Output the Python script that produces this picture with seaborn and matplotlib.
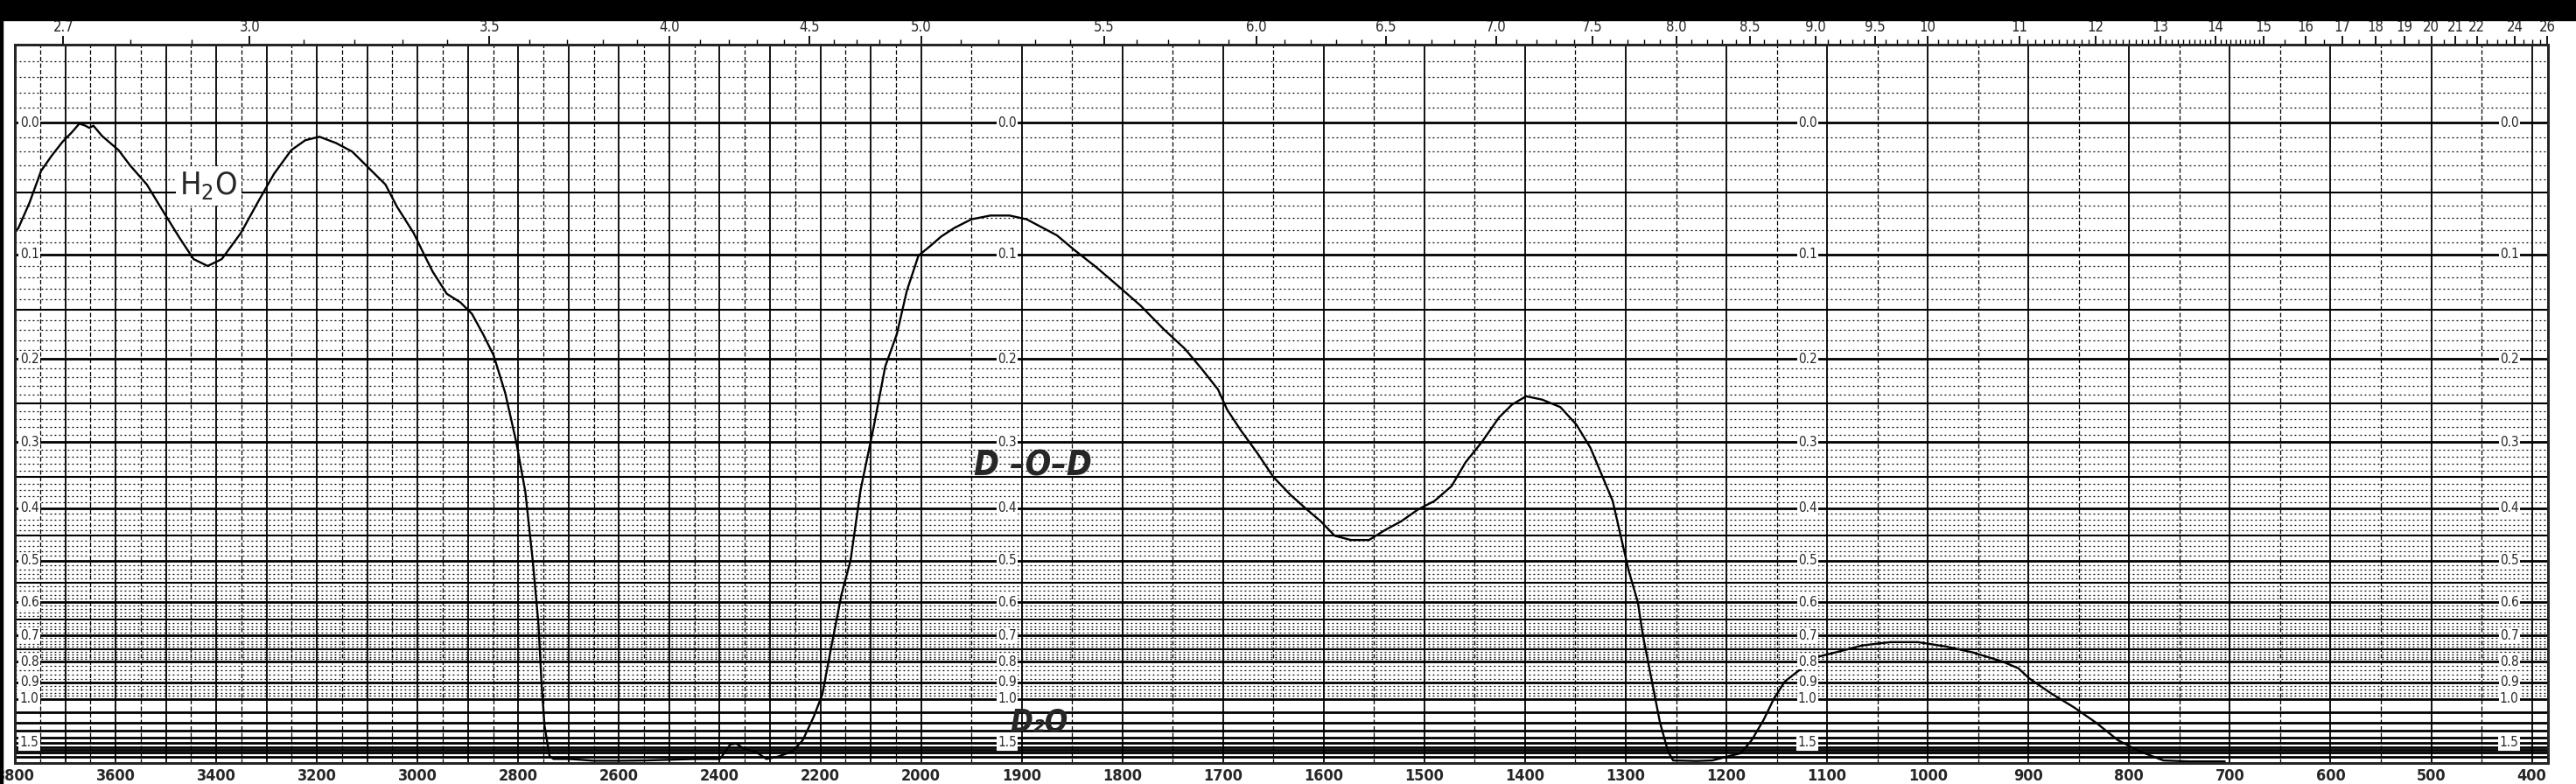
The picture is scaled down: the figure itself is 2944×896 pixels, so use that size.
import numpy as np
import pandas as pd
import matplotlib
matplotlib.use("Agg")
import matplotlib.pyplot as plt
import matplotlib.font_manager as fm
from matplotlib.patches import Rectangle
import seaborn as sns

# trace: wavenumber (cm-1) and absorbance
wavenumber = [3800, 3793, 3771, 3748, 3727, 3705, 3687, 3672, 3660, 3652, 3644, 3627,
              3594, 3571, 3538, 3505, 3473, 3445, 3417, 3389, 3351, 3318, 3285, 3251,
              3223, 3195, 3162, 3130, 3091, 3064, 3041, 3008, 2986, 2970, 2942, 2915,
              2892, 2870, 2849, 2826, 2804, 2786, 2771, 2760, 2754, 2748, 2738, 2730,
              2700, 2650, 2600, 2550, 2500, 2450, 2400, 2395, 2385, 2379, 2367, 2351,
              2329, 2307, 2284, 2256, 2235, 2213, 2196, 2180, 2158, 2140, 2120, 2094,
              2071, 2048, 2028, 2005, 1991, 1980, 1967, 1950, 1931, 1912, 1895, 1881,
              1865, 1848, 1826, 1804, 1782, 1759, 1738, 1721, 1705, 1696, 1682, 1666,
              1650, 1633, 1617, 1603, 1589, 1573, 1555, 1539, 1523, 1506, 1490, 1473,
              1459, 1443, 1426, 1413, 1399, 1383, 1365, 1349, 1335, 1324, 1313, 1305,
              1297, 1288, 1283, 1274, 1266, 1258, 1253, 1230, 1214, 1197, 1186, 1175,
              1163, 1153, 1142, 1128, 1109, 1086, 1065, 1037, 1010, 982, 955, 926,
              910, 899, 877, 855, 833, 811, 789, 766, 740, 705]
absorbance = [0.082, 0.078, 0.058, 0.034, 0.023, 0.013, 0.0066, 0.0006, 0.002, 0.0035, 0.002, 0.009,
              0.019, 0.030, 0.044, 0.065, 0.086, 0.104, 0.110, 0.104, 0.082, 0.058, 0.036, 0.019,
              0.012, 0.0096, 0.014, 0.020, 0.034, 0.044, 0.061, 0.082, 0.101, 0.115, 0.135, 0.143,
              0.154, 0.174, 0.196, 0.238, 0.30, 0.373, 0.503, 0.662, 0.895, 1.23, 1.96, 2.2,
              2.2, 2.45, 2.45, 2.4, 2.3, 2.2, 2.2, 1.96, 1.65, 1.54, 1.52, 1.66,
              1.75, 2.2, 2.0, 1.75, 1.45, 1.14, 0.97, 0.76, 0.58, 0.50, 0.37, 0.28,
              0.208, 0.174, 0.132, 0.101, 0.093, 0.085, 0.078, 0.071, 0.068, 0.068, 0.071, 0.077,
              0.084, 0.096, 0.111, 0.128, 0.146, 0.169, 0.189, 0.211, 0.234, 0.258, 0.285, 0.315,
              0.35, 0.378, 0.402, 0.423, 0.45, 0.458, 0.458, 0.439, 0.423, 0.402, 0.388, 0.364,
              0.328, 0.30, 0.268, 0.252, 0.242, 0.246, 0.255, 0.277, 0.308, 0.346, 0.388, 0.45,
              0.523, 0.60, 0.70, 0.895, 1.20, 1.75, 2.4, 2.5, 2.4, 1.96, 1.82, 1.45,
              1.17, 1.0, 0.895, 0.84, 0.78, 0.757, 0.736, 0.724, 0.724, 0.74, 0.763, 0.80,
              0.83, 0.88, 0.966, 1.06, 1.20, 1.45, 1.75, 2.4, 2.6, 2.6]

bottom_ticks = [3800, 3600, 3400, 3200, 3000, 2800, 2600, 2400, 2200, 2000, 1900, 1800,
                1700, 1600, 1500, 1400, 1300, 1200, 1100, 1000, 900, 800, 700, 600, 500, 400]
micron_ticks = [2.7, 3.0, 3.5, 4.0, 4.5, 5.0, 5.5, 6.0, 6.5, 7.0, 7.5, 8.0, 8.5, 9.0, 9.5,
                10, 11, 12, 13, 14, 15, 16, 17, 18, 19, 20, 21, 22, 24, 26]
micron_labels = ["2.7", "3.0", "3.5", "4.0", "4.5", "5.0", "5.5", "6.0", "6.5", "7.0", "7.5",
                 "8.0", "8.5", "9.0", "9.5", "10", "11", "12", "13", "14", "15", "16", "17",
                 "18", "19", "20", "21", "22", "24", "26"]
abs_ticks = [0.0, 0.1, 0.2, 0.3, 0.4, 0.5, 0.6, 0.7, 0.8, 0.9, 1.0, 1.5]
label_columns = [3790, 1905, 1110, 413]


def fwd(x):
    x = np.asarray(x, dtype=float)
    return np.where(x > 2000, 2000 + (x - 2000) / 2.0, x)


def inv(u):
    u = np.asarray(u, dtype=float)
    return np.where(u > 2000, 2000 + (u - 2000) * 2.0, u)


def to_T(a):
    return 10.0 ** (-np.asarray(a, dtype=float))


sns.set_theme(style="white")
names = {f.name for f in fm.fontManager.ttflist}
narrow = "Liberation Sans Narrow" if "Liberation Sans Narrow" in names else "DejaVu Sans"
plt.rcParams["font.family"] = [narrow, "DejaVu Sans"]
if narrow == "DejaVu Sans":
    plt.rcParams["font.stretch"] = "condensed"
plt.rcParams["mathtext.default"] = "regular"

df = pd.DataFrame({"wavenumber": wavenumber,
                   "transmittance": to_T(absorbance)})

fig = plt.figure(figsize=(29.44, 8.96), dpi=100)
ax = fig.add_axes([17 / 2944, 24 / 896, 2895 / 2944, 821 / 896])

# chart paper: horizontal lines in absorbance
fine = list(np.round(np.arange(-0.05, 0.801, 0.01), 2)) + \
    list(np.round(np.arange(0.82, 1.001, 0.02), 2)) + [1.1, 1.2, 1.3, 1.4, 1.5, 1.6, 1.7, 1.8, 2.0]
for a in fine:
    t = to_T(a)
    if abs(a * 10 - round(a * 10)) < 1e-6 or a in (1.5, 2.0):
        ax.axhline(t, color="black", lw=2.0, zorder=1)
    elif abs(a * 20 - round(a * 20)) < 1e-6:
        ax.axhline(t, color="black", lw=1.5, zorder=1)
    else:
        ax.axhline(t, color="black", lw=0.9, ls=(0, (1.5, 2.5)), zorder=1)

# vertical lines every 50 cm-1, heavier at each 100
for w in range(400, 3801, 50):
    if w % 100 == 0:
        ax.axvline(w, color="black", lw=1.3, zorder=1)
    else:
        ax.axvline(w, color="black", lw=0.9, ls=(0, (4, 2)), zorder=1)

sns.lineplot(data=df, x="wavenumber", y="transmittance", ax=ax, color="black",
             lw=1.7, sort=False, estimator=None, zorder=4)

ax.set_xscale("function", functions=(fwd, inv))
ax.set_xlim(3800, 384)
ax.set_ylim(0, 10 ** 0.05)
ax.set_xlabel("")
ax.set_ylabel("")
ax.set_xticks(bottom_ticks)
ax.set_xticklabels([str(t) for t in bottom_ticks])
ax.set_xticks([], minor=True)
ax.set_yticks([])
ax.tick_params(axis="x", length=0, pad=4, labelsize=13)
for lab in ax.get_xticklabels():
    lab.set_fontweight("bold")
for s in ax.spines.values():
    s.set_color("black")
    s.set_linewidth(2)

# absorbance labels repeated across the chart
for col in label_columns:
    for a in abs_ticks:
        ha = "left" if col > 3000 else "right"
        ax.text(col, to_T(a), f"{a:.1f}", ha=ha, va="center", fontsize=11, zorder=5,
                bbox=dict(facecolor="white", edgecolor="none", pad=1.0))

# wavelength scale on top
ax2 = ax.twiny()
ax2.set_xscale("function", functions=(fwd, inv))
ax2.set_xlim(3800, 384)
ax2.set_xticks([10000.0 / m for m in micron_ticks])
ax2.set_xticklabels(micron_labels)
minor_um = list(np.arange(2.7, 15.0, 0.1)) + list(np.arange(15.0, 26.01, 0.5))
ax2.set_xticks([10000.0 / m for m in minor_um], minor=True)
ax2.tick_params(axis="x", which="major", length=7, width=1.3, pad=1, labelsize=12,
                color="black", direction="out")
ax2.tick_params(axis="x", which="minor", length=4, width=1.0, color="black", direction="out")
for s in ax2.spines.values():
    s.set_linewidth(2)

ax.text(3415, to_T(0.045), "H$_2$O", fontsize=26, ha="center", va="center", zorder=5,
        bbox=dict(facecolor="white", edgecolor="none", pad=3))
ax.text(1889, to_T(0.333), "D –O–D", fontsize=28, style="italic", fontweight="bold",
        ha="center", va="center", zorder=5, family="DejaVu Sans")
ax.text(1883, to_T(1.2), "D₂O", fontsize=25, style="italic", fontweight="bold",
        ha="center", va="center", zorder=5, family="DejaVu Sans")

fig.add_artist(Rectangle((0, 1 - 23 / 896), 1, 23 / 896, transform=fig.transFigure,
                         color="black", zorder=10))
fig.add_artist(Rectangle((0, 0), 3 / 2944, 1, transform=fig.transFigure,
                         color="black", zorder=10))

fig.savefig("out.png", dpi=100, facecolor="white")
